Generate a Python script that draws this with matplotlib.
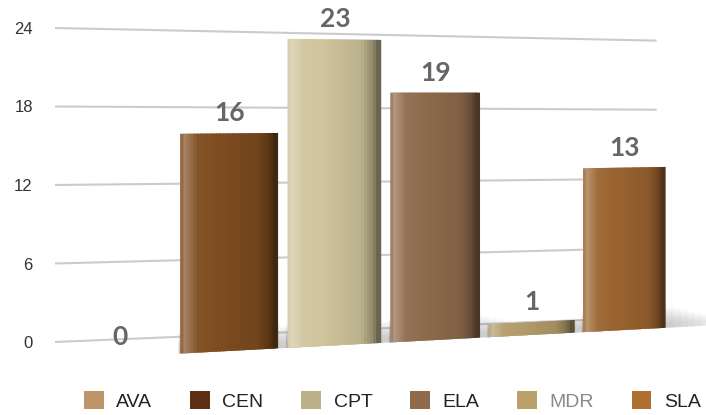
import matplotlib
matplotlib.use("Agg")
import matplotlib.pyplot as plt
from matplotlib.transforms import Transform
from matplotlib.patches import Patch
from matplotlib.colors import to_rgb
import numpy as np

categories = ["AVA", "CEN", "CPT", "ELA", "MDR", "SLA"]
counts = [0, 16, 23, 19, 1, 13]
y_ticks = [0, 6, 12, 18, 24]
bar_colors = ["#c0946a", "#7e4c1f", "#cfc49c", "#8e6a4c", "#b39b6a", "#9a6430"]
legend_colors = ["#c0946a", "#5c3010", "#bdb088", "#8e6a4c", "#bca06a", "#b06f30"]
legend_text_colors = ["#222222", "#222222", "#222222", "#222222", "#8a8a8a", "#222222"]


class Perspective(Transform):
    """Pulls display points toward a vanishing point far to the right,
    which gives the flat chart the slanted keynote-3d look."""
    input_dims = 2
    output_dims = 2
    is_separable = False
    has_inverse = False

    def __init__(self, x0, horizon, k):
        super().__init__()
        self.x0 = x0
        self.horizon = horizon
        self.k = k

    def transform_non_affine(self, values):
        values = np.asarray(values, dtype=float)
        d = values[:, 0] - self.x0
        w = 1 + self.k * d
        out = np.empty_like(values)
        out[:, 0] = self.x0 + d / w
        out[:, 1] = self.horizon + (values[:, 1] - self.horizon) / w
        return out


def shade(color, t):
    # light strip on the left edge, dark on the right, like a lit cylinder
    rgb = np.array(to_rgb(color))
    f = np.interp(t, [0, 0.05, 0.18, 0.8, 0.93, 1.0], [1.1, 1.3, 1.05, 0.9, 0.7, 0.45])
    if f > 1:
        rgb = rgb + (1 - rgb) * (f - 1)
    else:
        rgb = rgb * f
    return tuple(np.clip(rgb, 0, 1))


W, H = 706, 415
fig = plt.figure(figsize=(W / 100, H / 100), dpi=100)

# back wall: gridlines + y labels
wall = fig.add_axes([55 / W, 73 / H, 684 / W, 314 / H])
wall.set_xlim(0, 1)
wall.set_ylim(0, 24)
wall.patch.set_visible(False)
for s in wall.spines.values():
    s.set_visible(False)
wall.xaxis.set_visible(False)
wall.set_yticks(y_ticks)
wall.set_yticklabels([str(t) for t in y_ticks], fontsize=12, color="#333333",
                     family="Liberation Sans")
wall.tick_params(axis="y", length=0, pad=16)
wall_persp = Perspective(55, H - 133, 0.0002)
grid = wall.hlines(y_ticks, 0, 1, colors="#cbcbcb", linewidth=1.5, clip_on=False)
grid.set_transform(wall.transData + wall_persp)

# front plane: the bars
ax = fig.add_axes([63.35 / W, 58.2 / H, 675 / W, 333.8 / H])
ax.set_xlim(-0.5, 5.5)
ax.set_ylim(0, 24)
ax.axis("off")
bar_persp = Perspective(119.6, H - 93.8, 0.000202)
x = np.arange(len(categories))
bar_width = 0.89

# soft floor shadow behind each standing bar (never taller than the bar)
vals = np.array(counts, dtype=float)
for k in range(10):
    sh = ax.bar(x + 0.04 * k, np.minimum(vals, 1.8 - 0.15 * k),
                width=bar_width * (1.05 + 0.09 * k), color="#555555", alpha=0.035,
                linewidth=0, clip_on=False)
    for b in sh:
        b.set_transform(ax.transData + bar_persp)

n_slices = 30
for j in range(n_slices):
    t = (j + 0.5) / n_slices
    bars = ax.bar(x + (t - 0.5) * bar_width, counts, width=bar_width / n_slices * 1.7,
                  color=[shade(c, t) for c in bar_colors], linewidth=0, clip_on=False)
    for b in bars:
        b.set_transform(ax.transData + bar_persp)

for xi, v in zip(x, counts):
    ax.annotate(str(v), xy=(xi, v), xycoords=ax.transData + bar_persp,
                xytext=(0, 8), textcoords="offset pixels", ha="center", va="bottom",
                fontsize=19, fontweight="bold", color="#666666", family="Lato",
                annotation_clip=False)

handles = [Patch(facecolor=c, edgecolor="none", label=n) for c, n in zip(legend_colors, categories)]
fig.legend(handles=handles, loc="center", bbox_to_anchor=(0.556, 0.034), ncol=6,
           frameon=False, prop={"family": "Liberation Sans", "size": 14},
           handlelength=1.0, handleheight=1.0, handletextpad=0.65, columnspacing=1.95,
           labelcolor=legend_text_colors)

fig.savefig("out.png", dpi=100, facecolor="white")
